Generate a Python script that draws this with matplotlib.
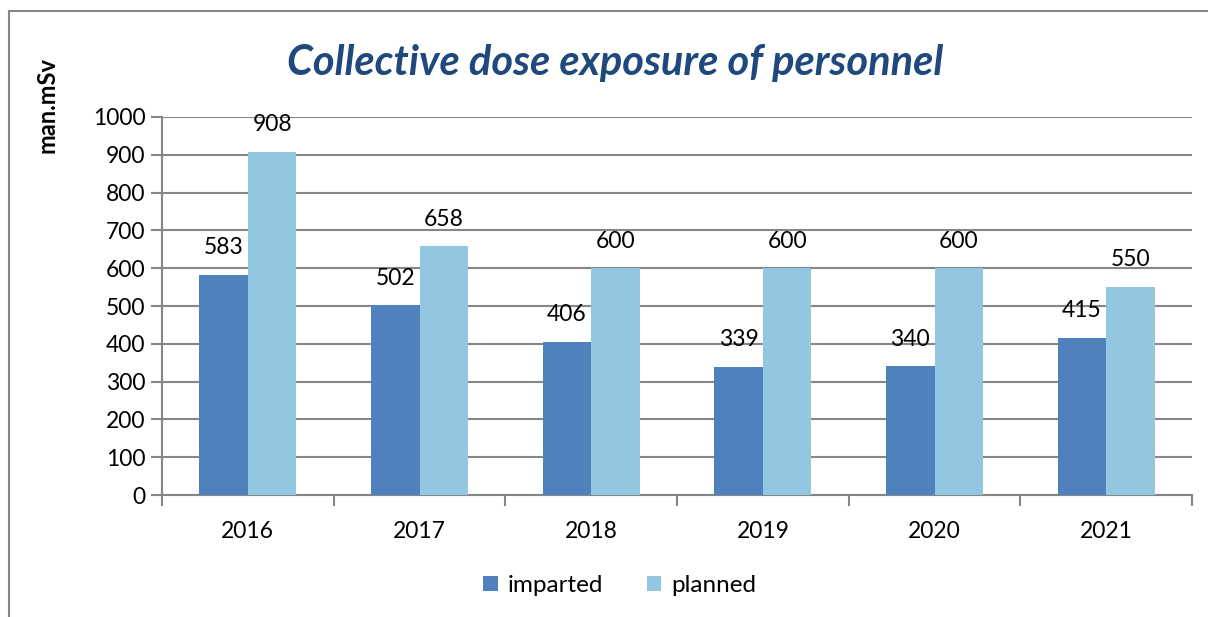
import numpy as np
import matplotlib.pyplot as plt
from matplotlib.lines import Line2D

years = ['2016', '2017', '2018', '2019', '2020', '2021']
imparted = [583, 502, 406, 339, 340, 415]
planned = [908, 658, 600, 600, 600, 550]

plt.rcParams['font.family'] = ['Lato', 'DejaVu Sans']

fig = plt.figure(figsize=(12.08, 6.17), dpi=100)
ax = fig.add_axes([0.1341, 0.1977, 0.8527, 0.6127])

x = np.arange(len(years))
w = 0.283
b1 = ax.bar(x - w/2, imparted, w, color='#4F81BD', label='imparted', zorder=3)
b2 = ax.bar(x + w/2, planned, w, color='#93C6E0', label='planned', zorder=3)
for bars, vals in ((b1, imparted), (b2, planned)):
    for r, v in zip(bars, vals):
        ax.annotate(str(v), (r.get_x() + r.get_width()/2, v), xytext=(0, 12),
                    textcoords='offset points', ha='center', va='bottom', fontsize=16.5)

ax.set_xlim(-0.5, len(years) - 0.5)
ax.set_ylim(0, 1000)
ax.set_yticks(range(0, 1001, 100))
ax.set_xticks(x)
ax.set_xticklabels(years)
ax.set_xticks(np.arange(-0.5, len(years)), minor=True)
ax.tick_params(axis='x', which='major', length=0, pad=19, labelsize=16.5)
ax.tick_params(axis='x', which='minor', length=8, width=1.5, color='#868686', direction='out')
ax.tick_params(axis='y', length=8, width=1.5, color='#868686', labelsize=16.5, pad=4)
ax.grid(axis='y', color='#868686', linewidth=1.5, zorder=0)
for s in ('top', 'right'):
    ax.spines[s].set_visible(False)
for s in ('left', 'bottom'):
    ax.spines[s].set_color('#868686')
    ax.spines[s].set_linewidth(1.5)

fig.text(0.509, 0.898, 'Collective dose exposure of personnel', ha='center', va='center',
         fontsize=30, fontweight='bold', fontstyle='italic', color='#1F497D')
fig.text(0.039, 0.83, 'man.mSv', rotation=90, ha='center', va='center',
         fontsize=17, fontweight='bold')

fig.legend(handles=[b1, b2], loc='center', bbox_to_anchor=(0.513, 0.051), ncol=2,
           frameon=False, fontsize=17.5, handlelength=0.6, handleheight=0.6,
           handletextpad=0.4, columnspacing=1.8)

# chart border (left and top edges visible)
fig.add_artist(Line2D([9/1208, 9/1208], [0, 1 - 11/617], transform=fig.transFigure,
                      color='#868686', linewidth=1.5))
fig.add_artist(Line2D([9/1208, 1], [1 - 11/617, 1 - 11/617], transform=fig.transFigure,
                      color='#868686', linewidth=1.5))

fig.savefig('out.png', dpi=100)
